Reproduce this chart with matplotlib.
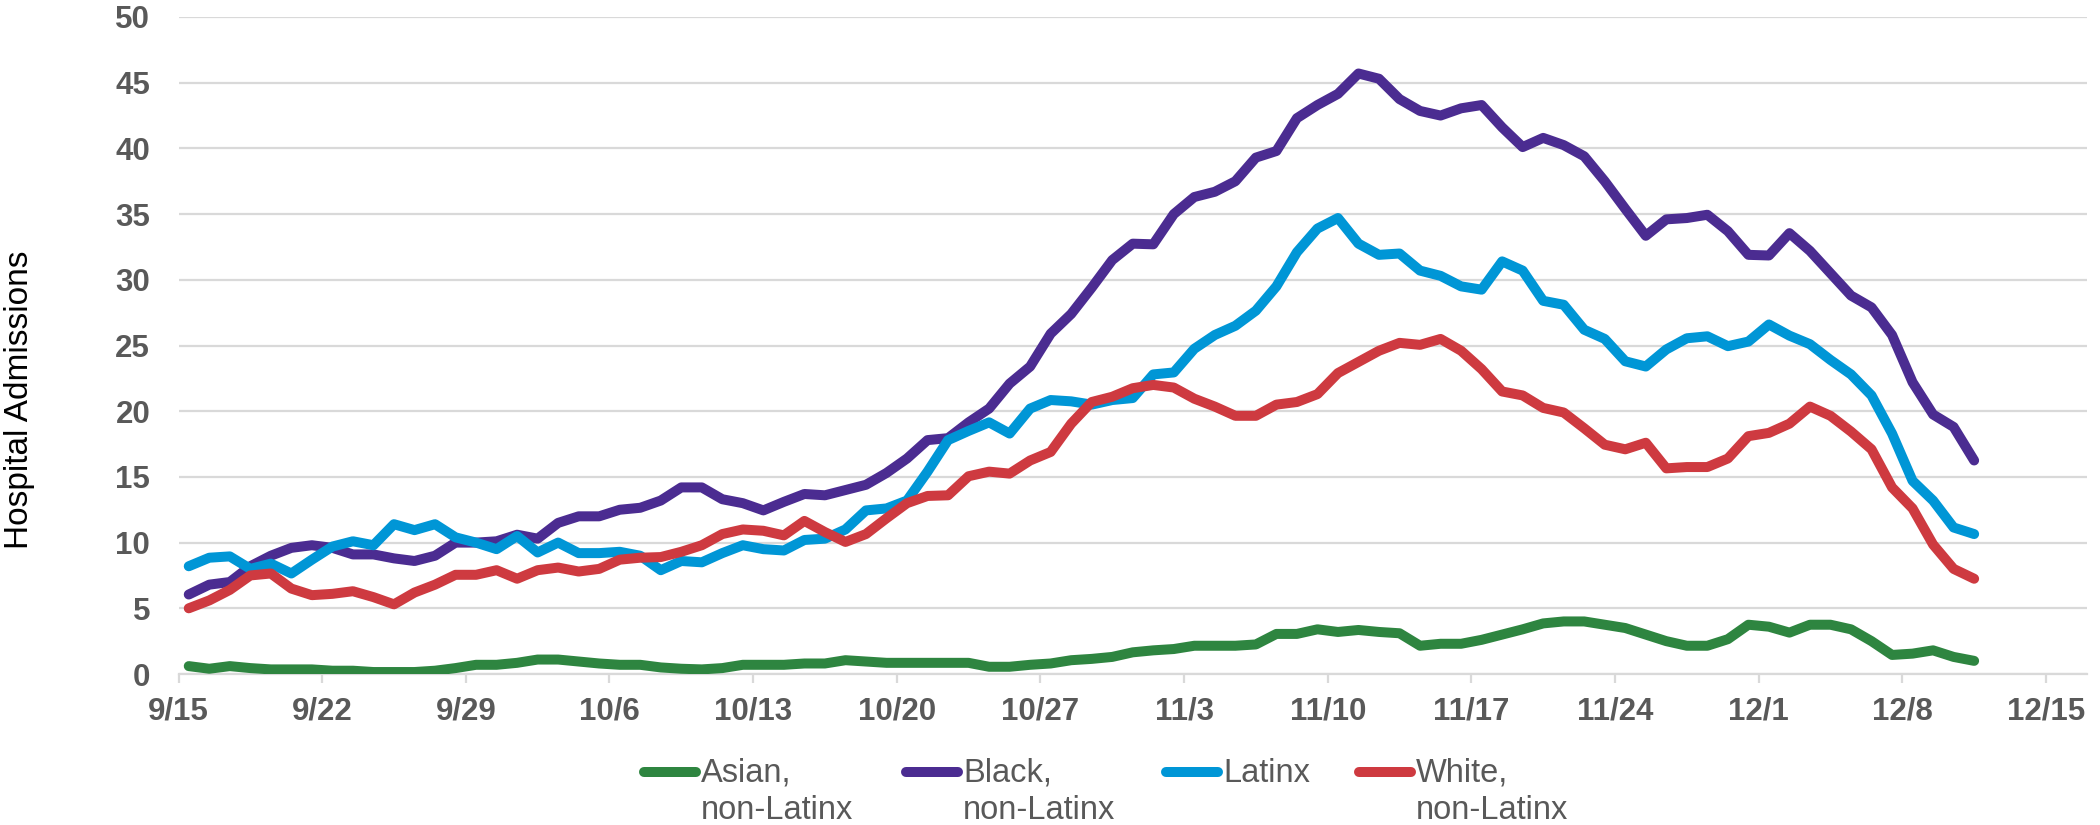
import numpy as np
import pandas as pd
import matplotlib
matplotlib.use("Agg")
import matplotlib.pyplot as plt
from matplotlib.lines import Line2D

plt.rcParams['font.family'] = ['Liberation Sans', 'DejaVu Sans']

start_date = "2020-09-15"
n_days = 88

asian = [0.6, 0.4, 0.6, 0.45, 0.35, 0.35, 0.35, 0.25, 0.25, 0.15, 0.15, 0.15, 0.25, 0.45, 0.7, 0.7, 0.85, 1.1, 1.1, 0.95,
         0.8, 0.7, 0.7, 0.5, 0.4, 0.35, 0.45, 0.7, 0.7, 0.7, 0.8, 0.8, 1.05, 0.95, 0.85, 0.85, 0.85, 0.85, 0.85, 0.55,
         0.55, 0.7, 0.8, 1.05, 1.15, 1.3, 1.65, 1.8, 1.9, 2.15, 2.15, 2.15, 2.25, 3.05, 3.05, 3.4, 3.2, 3.35, 3.2, 3.1,
         2.15, 2.3, 2.3, 2.6, 3.0, 3.4, 3.85, 4.0, 4.0, 3.75, 3.5, 3.0, 2.5, 2.15, 2.15, 2.65, 3.75, 3.6, 3.15, 3.75,
         3.75, 3.4, 2.5, 1.45, 1.55, 1.8, 1.3, 1.0]

black = [6.05, 6.8, 7.0, 8.2, 9.0, 9.6, 9.8, 9.6, 9.1, 9.1, 8.8, 8.6, 9.0, 10.0, 10.0, 10.1, 10.6, 10.3, 11.5, 12.0,
         12.0, 12.5, 12.65, 13.2, 14.2, 14.2, 13.3, 13.0, 12.45, 13.1, 13.7, 13.6, 14.0, 14.4, 15.3, 16.4, 17.8, 17.95, 19.15, 20.2,
         22.1, 23.4, 25.9, 27.4, 29.4, 31.5, 32.75, 32.7, 35.0, 36.3, 36.7, 37.5, 39.3, 39.8, 42.3, 43.3, 44.15, 45.7, 45.3, 43.75,
         42.85, 42.5, 43.05, 43.3, 41.6, 40.1, 40.8, 40.25, 39.4, 37.5, 35.4, 33.35, 34.6, 34.7, 34.95, 33.7, 31.9, 31.85, 33.55, 32.2,
         30.5, 28.8, 27.9, 25.8, 22.2, 19.75, 18.8, 16.25]

latinx = [8.2, 8.85, 8.95, 8.0, 8.4, 7.65, 8.7, 9.7, 10.1, 9.8, 11.4, 10.95, 11.4, 10.4, 10.0, 9.5, 10.5, 9.25, 10.0, 9.2,
          9.2, 9.3, 9.0, 7.9, 8.6, 8.5, 9.2, 9.8, 9.5, 9.4, 10.2, 10.3, 11.0, 12.45, 12.6, 13.2, 15.4, 17.8, 18.5, 19.15,
          18.3, 20.2, 20.85, 20.75, 20.5, 20.85, 21.0, 22.8, 22.95, 24.75, 25.8, 26.5, 27.65, 29.5, 32.1, 33.9, 34.7, 32.75, 31.9, 32.0,
          30.7, 30.3, 29.5, 29.25, 31.4, 30.7, 28.4, 28.1, 26.2, 25.5, 23.8, 23.4, 24.7, 25.55, 25.7, 24.95, 25.3, 26.6, 25.75, 25.1,
          23.9, 22.8, 21.2, 18.3, 14.7, 13.2, 11.15, 10.65]

white = [5.0, 5.6, 6.4, 7.5, 7.65, 6.5, 6.0, 6.1, 6.3, 5.85, 5.3, 6.2, 6.8, 7.55, 7.55, 7.9, 7.25, 7.9, 8.1, 7.8,
         8.0, 8.7, 8.85, 8.9, 9.3, 9.8, 10.65, 11.0, 10.9, 10.55, 11.65, 10.8, 10.05, 10.65, 11.85, 13.0, 13.55, 13.6, 15.05, 15.4,
         15.25, 16.25, 16.9, 19.05, 20.7, 21.1, 21.75, 22.0, 21.8, 20.95, 20.35, 19.65, 19.65, 20.5, 20.7, 21.3, 22.9, 23.75, 24.6, 25.2,
         25.05, 25.5, 24.6, 23.2, 21.5, 21.2, 20.25, 19.9, 18.7, 17.45, 17.1, 17.6, 15.65, 15.75, 15.75, 16.4, 18.1, 18.35, 19.05, 20.35,
         19.65, 18.45, 17.1, 14.2, 12.6, 9.85, 8.0, 7.25]

series_labels = [("Asian,", "non-Latinx"), ("Black,", "non-Latinx"), ("Latinx", ""), ("White,", "non-Latinx")]
series_colors = ["#2E8540", "#4B2C91", "#0096D6", "#CE3A40"]
tick_labels = ['9/15', '9/22', '9/29', '10/6', '10/13', '10/20', '10/27', '11/3', '11/10',
               '11/17', '11/24', '12/1', '12/8', '12/15']
y_ticks = [0, 5, 10, 15, 20, 25, 30, 35, 40, 45, 50]

W, H = 2100, 825
fig = plt.figure(figsize=(W / 100, H / 100), dpi=100)
ax = fig.add_axes([178.5 / W, 1 - 674 / H, (2087 - 178.5) / W, (674 - 17) / H])

days = pd.date_range(start_date, periods=n_days) + pd.Timedelta(hours=12)
for vals, col in zip([asian, black, latinx, white], series_colors):
    ax.plot(days, vals, color=col, lw=7.2, solid_capstyle='round', solid_joinstyle='round', zorder=3)

x0 = pd.Timestamp(start_date)
ax.set_xlim(x0, x0 + pd.Timedelta(days=93))
ax.set_ylim(0, 50)
tick_dates = [x0 + pd.Timedelta(days=7 * k) for k in range(len(tick_labels))]
ax.set_xticks(tick_dates)
ax.set_xticklabels(tick_labels)
ax.set_yticks(y_ticks)
ax.set_yticklabels([str(v) for v in y_ticks])

grid_col = "#D9D9D9"
ax.grid(axis='y', color=grid_col, lw=1.6, zorder=0)
ax.set_axisbelow(True)
for s in ['top', 'right', 'left']:
    ax.spines[s].set_visible(False)
ax.spines['bottom'].set_color(grid_col)
ax.spines['bottom'].set_linewidth(1.6)
ax.tick_params(axis='x', length=6.5, width=1.6, color=grid_col, pad=10,
               labelsize=22.5, labelcolor='#595959')
ax.tick_params(axis='y', length=0, pad=20.4, labelsize=22.5, labelcolor='#595959')
for lab in ax.get_xticklabels() + ax.get_yticklabels():
    lab.set_fontweight('bold')

fig.text(20 / W, 1 - 400 / H, "Hospital Admissions", rotation=90, ha='center', va='center',
         fontsize=24, color='black')

# legend (Excel-like, handle aligned with first text line)
leg_x = [639, 901, 1161, 1354]
for (l1, l2), col, lx in zip(series_labels, series_colors, leg_x):
    fig.add_artist(Line2D([(lx + 5) / W, (lx + 57) / W], [1 - 771.5 / H, 1 - 771.5 / H], color=col, lw=7.2,
                          solid_capstyle='round', transform=fig.transFigure))
    fig.text((lx + 62) / W, 1 - 782 / H, l1, ha='left', va='baseline', fontsize=23.5, color='#595959')
    if l2:
        fig.text((lx + 62) / W, 1 - 819 / H, l2, ha='left', va='baseline', fontsize=23.5, color='#595959')

fig.savefig("out.png", dpi=100)
